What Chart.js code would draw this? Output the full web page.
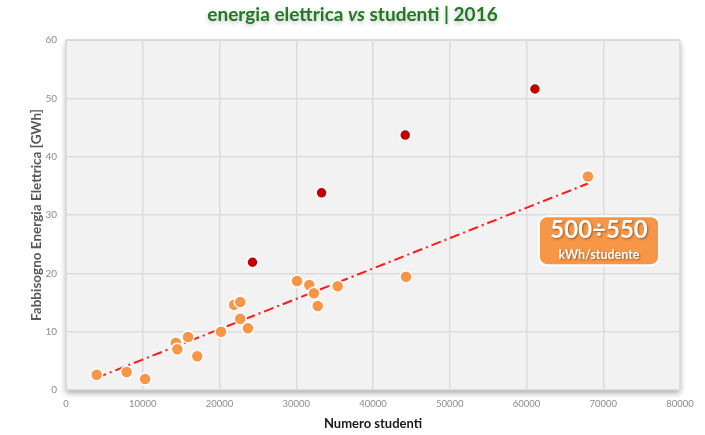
<!DOCTYPE html>
<html><head><meta charset="utf-8">
<script src="https://cdn.jsdelivr.net/npm/chart.js@4.4.1/dist/chart.umd.min.js"></script>
<style>html,body{margin:0;padding:0;background:#fff}#wrap{width:705px;height:435px}</style>
</head><body><div id="wrap"><canvas id="c" width="705" height="435"></canvas></div>
<script>
// Data
const studentiA = [4000, 7900, 10300, 14300, 14500, 15900, 17100, 20200, 21900, 22700, 22700, 23700, 30100, 31700, 32300, 32800, 35400, 44300, 68000];
const energiaA  = [2.6, 3.1, 1.9, 8.1, 7.0, 9.1, 5.8, 10.0, 14.6, 15.1, 12.2, 10.6, 18.7, 18.0, 16.6, 14.4, 17.8, 19.4, 36.6];
const studentiB = [24300, 33300, 44200, 61100];
const energiaB  = [21.9, 33.8, 43.7, 51.6];
const trendX = [4000, 68000];
const trendY = [2.1, 35.4];
const titleParts = ["energia elettrica ", "vs", " studenti | 2016"];
const xTitle = "Numero studenti";
const yTitle = "Fabbisogno Energia Elettrica [GWh]";
const boxBig = "500÷550";
const boxSmall = "kWh/studente";
const boxAnchor = {x: 69450, y: 25.6};

const toPts = (xs, ys) => xs.map((x, i) => ({x: x, y: ys[i]}));

const FONT = "Lato, 'Open Sans', sans-serif";

const bgPlugin = {
  id: 'bg',
  beforeDraw(chart) {
    const {ctx, chartArea: a} = chart;
    ctx.save();
    ctx.shadowColor = 'rgba(0,0,0,0.35)';
    ctx.shadowBlur = 6;
    ctx.shadowOffsetX = 0;
    ctx.shadowOffsetY = 3;
    ctx.fillStyle = '#f2f2f2';
    ctx.fillRect(a.left, a.top, a.right - a.left, a.bottom - a.top);
    ctx.restore();
    ctx.save();
    ctx.strokeStyle = '#d9d9d9';
    ctx.lineWidth = 1;
    ctx.strokeRect(a.left + 0.5, a.top + 0.5, a.right - a.left - 1, a.bottom - a.top - 1);
    ctx.restore();
    // title
    ctx.save();
    ctx.fillStyle = '#217a21';
    ctx.textBaseline = 'middle';
    ctx.shadowColor = 'rgba(0,0,0,0.25)';
    ctx.shadowBlur = 4;
    ctx.shadowOffsetY = 2;
    const fonts = ["bold 19px " + FONT, "italic bold 19px " + FONT, "bold 19px " + FONT];
    let total = 0;
    const widths = titleParts.map((t, i) => { ctx.font = fonts[i]; const w = ctx.measureText(t).width; total += w; return w; });
    let x = chart.width / 2 - total / 2;
    titleParts.forEach((t, i) => { ctx.font = fonts[i]; ctx.textAlign = 'left'; ctx.fillText(t, x, 15); x += widths[i]; });
    ctx.restore();
  }
};

const boxPlugin = {
  id: 'box',
  afterDatasetsDraw(chart) {
    const {ctx, scales} = chart;
    const cx = scales.x.getPixelForValue(boxAnchor.x);
    const cy = scales.y.getPixelForValue(boxAnchor.y);
    const w = 120, h = 49, r = 8;
    ctx.save();
    ctx.beginPath();
    ctx.roundRect(cx - w / 2, cy - h / 2, w, h, r);
    ctx.fillStyle = '#f79646';
    ctx.fill();
    ctx.lineWidth = 2;
    ctx.strokeStyle = '#ffffff';
    ctx.stroke();
    ctx.fillStyle = '#ffffff';
    ctx.textAlign = 'center';
    ctx.textBaseline = 'middle';
    ctx.shadowColor = 'rgba(90,40,0,0.55)';
    ctx.shadowBlur = 2;
    ctx.shadowOffsetX = 1;
    ctx.shadowOffsetY = 1;
    ctx.font = "bold 24px " + FONT;
    ctx.fillText(boxBig, cx, cy - 10);
    ctx.font = "bold 12.5px " + FONT;
    ctx.fillText(boxSmall, cx, cy + 14);
    ctx.restore();
  }
};

new Chart(document.getElementById('c'), {
  type: 'scatter',
  data: {
    datasets: [
      {
        label: 'A', data: toPts(studentiA, energiaA), order: 1,
        pointRadius: 6, pointHoverRadius: 6,
        pointBackgroundColor: '#f79646', pointBorderColor: '#ffffff', pointBorderWidth: 1.5
      },
      {
        label: 'B', data: toPts(studentiB, energiaB), order: 1,
        pointRadius: 5.5, pointHoverRadius: 5.5,
        pointBackgroundColor: '#c00000', pointBorderColor: '#ffffff', pointBorderWidth: 1.5
      },
      {
        type: 'line', label: 'trend', data: toPts(trendX, trendY), order: 3,
        borderColor: '#ff1a1a', borderWidth: 2, borderDash: [10, 4, 2, 4],
        pointRadius: 0, fill: false, tension: 0
      }
    ]
  },
  options: {
    responsive: false,
    animation: false,
    layout: {padding: {left: 0, right: 25, top: 40, bottom: 0}},
    plugins: {legend: {display: false}, tooltip: {enabled: false}, title: {display: false}},
    scales: {
      x: {
        type: 'linear', min: 0, max: 80000,
        afterFit(s) { s.height = 45; },
        ticks: {stepSize: 10000, color: '#8c8c8c', font: {family: FONT, size: 9.5}, padding: 8, maxRotation: 0, callback: v => String(v)},
        grid: {color: '#dcdcdc', lineWidth: 1.5, drawTicks: false},
        border: {display: false},
        title: {display: true, text: xTitle, color: '#1a1a1a', font: {family: FONT, size: 13, weight: 'bold'}, padding: {top: 0, bottom: 3}}
      },
      y: {
        type: 'linear', min: 0, max: 60,
        afterFit(s) { s.width = 66; },
        ticks: {stepSize: 10, color: '#8c8c8c', font: {family: FONT, size: 10}, padding: 9},
        grid: {color: '#dcdcdc', lineWidth: 1.5, drawTicks: false},
        border: {display: false},
        title: {display: true, text: yTitle, color: '#595959', font: {family: FONT, size: 13.5, weight: 'bold'}, padding: {top: 29, bottom: 0}}
      }
    }
  },
  plugins: [bgPlugin, boxPlugin]
});
</script>
</body></html>
